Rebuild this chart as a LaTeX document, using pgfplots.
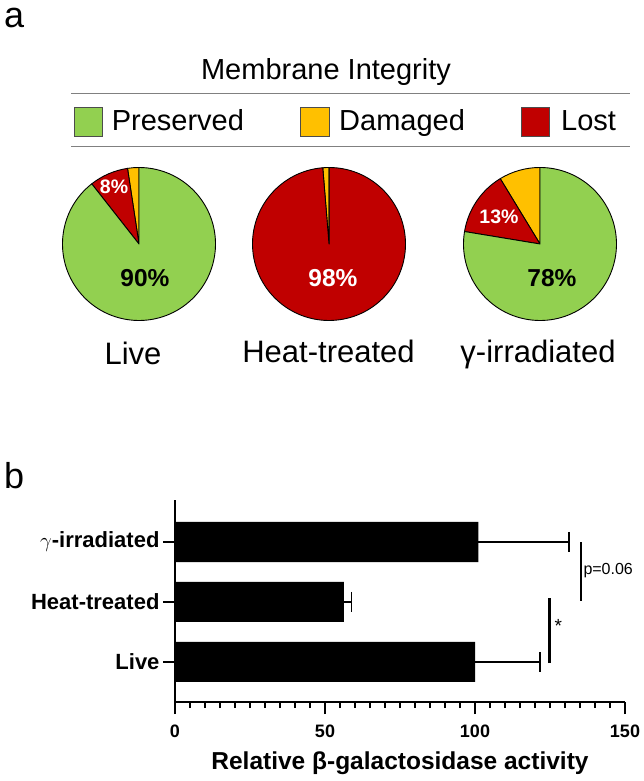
\documentclass[border=0pt]{standalone}
\usepackage{fontspec}
\setmainfont{Liberation Sans}
\usepackage{pgfplots}
\pgfplotsset{compat=1.18}
\definecolor{pgreen}{HTML}{92D050}
\definecolor{pyellow}{HTML}{FFC000}
\definecolor{pred}{HTML}{C00000}
\newcommand\fs[1]{\fontsize{#1}{#1}\selectfont}
\def\R{76.5pt}
% slice from cumulative percent #3 to #4, counterclockwise from 12 o'clock
\newcommand\pieslice[5]{\filldraw[fill=#5,draw=black,line width=0.9pt,line join=round] (axis cs:#1,#2) -- ++({90+3.6*(#3)}:\R) arc[start angle={90+3.6*(#3)}, end angle={90+3.6*(#4)}, radius=\R] -- cycle;}
% \pie{cx}{cy}{damaged}{lost}{preserved}
\newcommand\pie[5]{%
  \pieslice{#1}{#2}{0}{#3}{pyellow}%
  \pieslice{#1}{#2}{#3}{#3+#4}{pred}%
  \pieslice{#1}{#2}{#3+#4}{#3+#4+#5}{pgreen}}
\begin{document}
\begin{tikzpicture}
\useasboundingbox (0,0) rectangle (644pt,781pt);
% ---------- panel a ----------
\begin{axis}[at={(0pt,0pt)}, anchor=south west, scale only axis,
  width=644pt, height=781pt, xmin=0, xmax=644, ymin=0, ymax=781,
  hide axis, clip=false]
  % pies: damaged, lost, preserved (%)
  \pie{139}{537}{2.4}{8.2}{89.4}
  \pie{329}{537}{1.3}{98.7}{0}
  \pie{540}{537}{8.7}{13.7}{77.6}
  \node[anchor=center,text=white,font=\bfseries\fs{19.5}] at (axis cs:114,594) {8\%};
  \node[anchor=center,text=black,font=\bfseries\fs{24.5}] at (axis cs:145,503) {90\%};
  \node[anchor=center,text=white,font=\bfseries\fs{24.5}] at (axis cs:333,503) {98\%};
  \node[anchor=center,text=white,font=\bfseries\fs{19.5}] at (axis cs:499,564) {13\%};
  \node[anchor=center,text=black,font=\bfseries\fs{24.5}] at (axis cs:552,503) {78\%};
  \node[anchor=base,inner sep=0pt,font=\fs{31}] at (axis cs:133,416) {Live};
  \node[anchor=base,inner sep=0pt,font=\fs{31}] at (axis cs:328.5,418) {Heat-treated};
  \node[anchor=base,inner sep=0pt,font=\fs{31}] at (axis cs:538,418) {γ-irradiated};
  % legend
  \node[anchor=base west,inner sep=0pt,font=\fs{36}] at (axis cs:4,753) {a};
  \node[anchor=base west,inner sep=0pt,font=\fs{36}] at (axis cs:4,292) {b};
  \node[anchor=base,inner sep=0pt,font=\fs{29}] at (axis cs:326,701) {Membrane Integrity};
  \draw[gray,line width=1.5pt] (axis cs:71,687.7) -- (axis cs:630,687.7);
  \draw[gray,line width=1.5pt] (axis cs:71,634.3) -- (axis cs:630,634.3);
  \filldraw[fill=pgreen,draw=black!70,line width=0.8pt] (axis cs:74,645) rectangle (axis cs:102.5,673.3);
  \filldraw[fill=pyellow,draw=black!70,line width=0.8pt] (axis cs:300,645) rectangle (axis cs:329,673.3);
  \filldraw[fill=pred,draw=black!70,line width=0.8pt] (axis cs:521.5,645) rectangle (axis cs:549.6,673.3);
  \node[anchor=base west,inner sep=0pt,font=\fs{29}] at (axis cs:111.6,650) {Preserved};
  \node[anchor=base west,inner sep=0pt,font=\fs{29}] at (axis cs:339,650) {Damaged};
  \node[anchor=base west,inner sep=0pt,font=\fs{29}] at (axis cs:561,650) {Lost};
\end{axis}
% ---------- panel b ----------
\begin{axis}[at={(175pt,79pt)}, anchor=south west, scale only axis,
  width=450pt, height=202pt,
  xmin=0, xmax=150, ymin=-0.667, ymax=2.7,
  axis x line*=bottom, axis y line*=left,
  axis line style={line width=2.4pt,-},
  xtick={0,50,100,150}, minor x tick num=9,
  ytick={0,1,2}, yticklabels={Live,Heat-treated,{$\gamma$-irradiated}},
  tick align=outside, major tick length=12pt, minor tick length=6pt,
  tick style={black,line width=2pt},
  /pgf/number format/assume math mode=true,
  x tick label style={font=\bfseries\fs{18}, yshift=-7pt},
  y tick label style={font=\bfseries\fs{22}},
  xlabel={Relative β-galactosidase activity},
  xlabel style={font=\bfseries\fs{24.5}, at={(axis description cs:0.5,0)}, anchor=center, yshift=-61pt},
  clip=false]
  \addplot[xbar, bar width=0.667, fill=black, draw=none,
    error bars/.cd, x dir=plus, x explicit,
    error bar style={line width=1.3pt,black},
    error mark options={rotate=90,line width=1.3pt,black,mark size=10pt}]
    coordinates {(100,0) +- (21.7,0) (56.3,1) +- (2.6,0) (101.1,2) +- (30.2,0)};
  \draw[line width=2.8pt] (axis cs:124.7,-0.02) -- (axis cs:124.7,1.07);
  \draw[line width=2.8pt] (axis cs:135.3,1.02) -- (axis cs:135.3,2.0);
  \node[font=\fs{19}] at (axis cs:127.8,0.6) {*};
  \node[anchor=west,inner sep=0pt,font=\fs{16}] at (axis cs:136.1,1.53) {p=0.06};
\end{axis}
\end{tikzpicture}
\end{document}
